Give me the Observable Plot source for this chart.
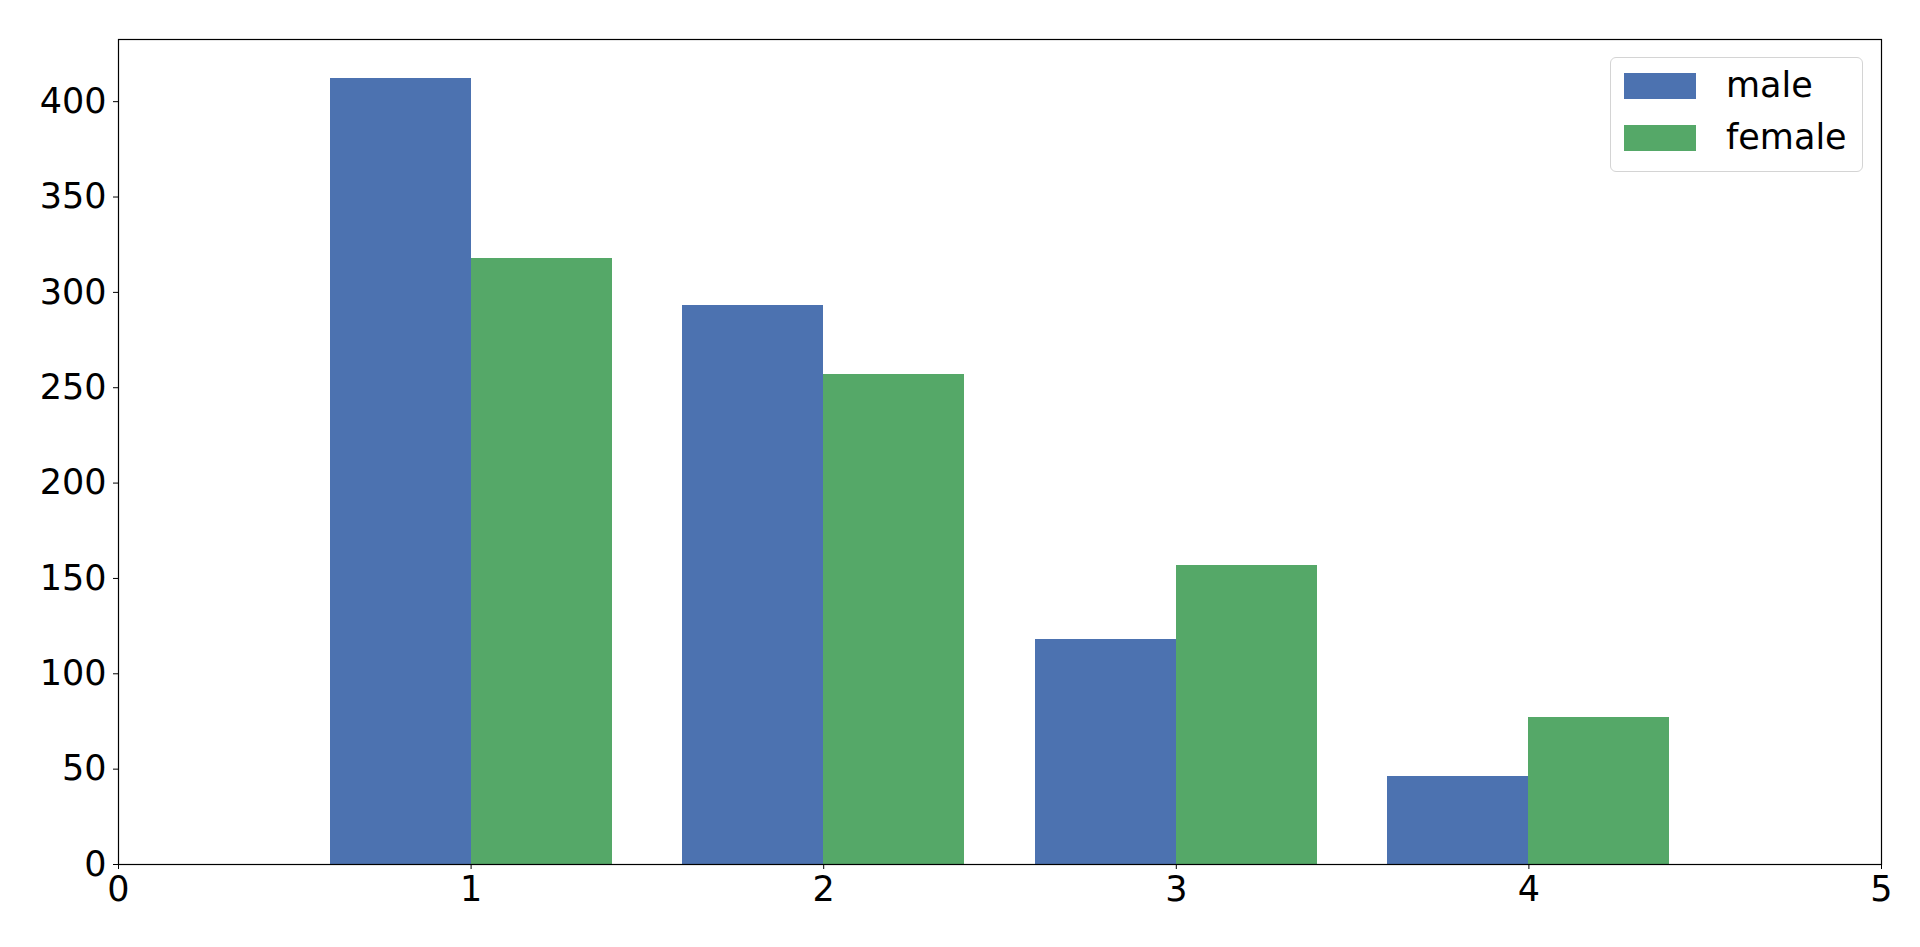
<!DOCTYPE html>
<html>
<head>
<meta charset="utf-8">
<script src="https://cdn.jsdelivr.net/npm/d3@7"></script>
<script src="https://cdn.jsdelivr.net/npm/@observablehq/plot@0.6"></script>
<style>
  html, body { margin: 0; padding: 0; background: white; }
  #wrap { position: relative; width: 1920px; height: 947px; }
  #legend {
    position: absolute; left: 1610px; top: 57px; width: 251px; height: 113px;
    border: 1.5px solid #d4d4d4; border-radius: 6px; background: rgba(255,255,255,0.8);
    font-family: "DejaVu Sans", sans-serif; font-size: 35px; color: black;
  }
  .item { position: absolute; left: 13px; display: flex; align-items: center; height: 26px; }
  .sw { width: 72px; height: 26px; margin-right: 30px; }
  .lbl { line-height: 26px; position: relative; top: -1px; }
</style>
</head>
<body>
<div id="wrap"></div>
<script>
const categories = [1, 2, 3, 4];
const male = [412, 293, 118, 46];
const female = [318, 257, 157, 77];
const seriesNames = ["male", "female"];
const seriesColors = ["#4C72B0", "#55A868"];
const xTicks = [0, 1, 2, 3, 4, 5];
const yTicks = [0, 50, 100, 150, 200, 250, 300, 350, 400];
const barWidth = 0.4;

const rows = [];
categories.forEach((c, i) => {
  rows.push({cat: c, sex: "male", value: male[i], x1: c - barWidth, x2: c});
  rows.push({cat: c, sex: "female", value: female[i], x1: c, x2: c + barWidth});
});
const yMax = d3.max([...male, ...female]) * 1.05;

const chart = Plot.plot({
  width: 1920,
  height: 947,
  marginLeft: 118,
  marginRight: 39,
  marginTop: 39,
  marginBottom: 83,
  style: {fontFamily: "DejaVu Sans, sans-serif", fontSize: "35px", color: "black", background: "white"},
  x: {type: "linear", domain: [0, 5]},
  y: {domain: [0, yMax]},
  color: {domain: seriesNames, range: seriesColors},
  marks: [
    Plot.rect(rows, {x1: "x1", x2: "x2", y1: 0, y2: "value", fill: "sex", shapeRendering: "crispEdges"}),
    Plot.axisX({ticks: xTicks, tickSize: 5, tickPadding: 7, tickFormat: d => String(d), label: null, fontSize: 35}),
    Plot.axisY({ticks: yTicks, tickSize: 5, tickPadding: 7, tickFormat: d => String(d), label: null, fontSize: 35}),
    Plot.frame({stroke: "black", strokeWidth: 1.2})
  ]
});
const wrap = document.getElementById("wrap");
wrap.appendChild(chart);

const legend = document.createElement("div");
legend.id = "legend";
seriesNames.forEach((name, i) => {
  const item = document.createElement("div");
  item.className = "item";
  item.style.top = (i === 0 ? 15 : 67) + "px";
  const sw = document.createElement("div");
  sw.className = "sw";
  sw.style.background = seriesColors[i];
  const lbl = document.createElement("span");
  lbl.className = "lbl";
  lbl.textContent = name;
  item.appendChild(sw);
  item.appendChild(lbl);
  legend.appendChild(item);
});
wrap.appendChild(legend);
</script>
</body>
</html>
